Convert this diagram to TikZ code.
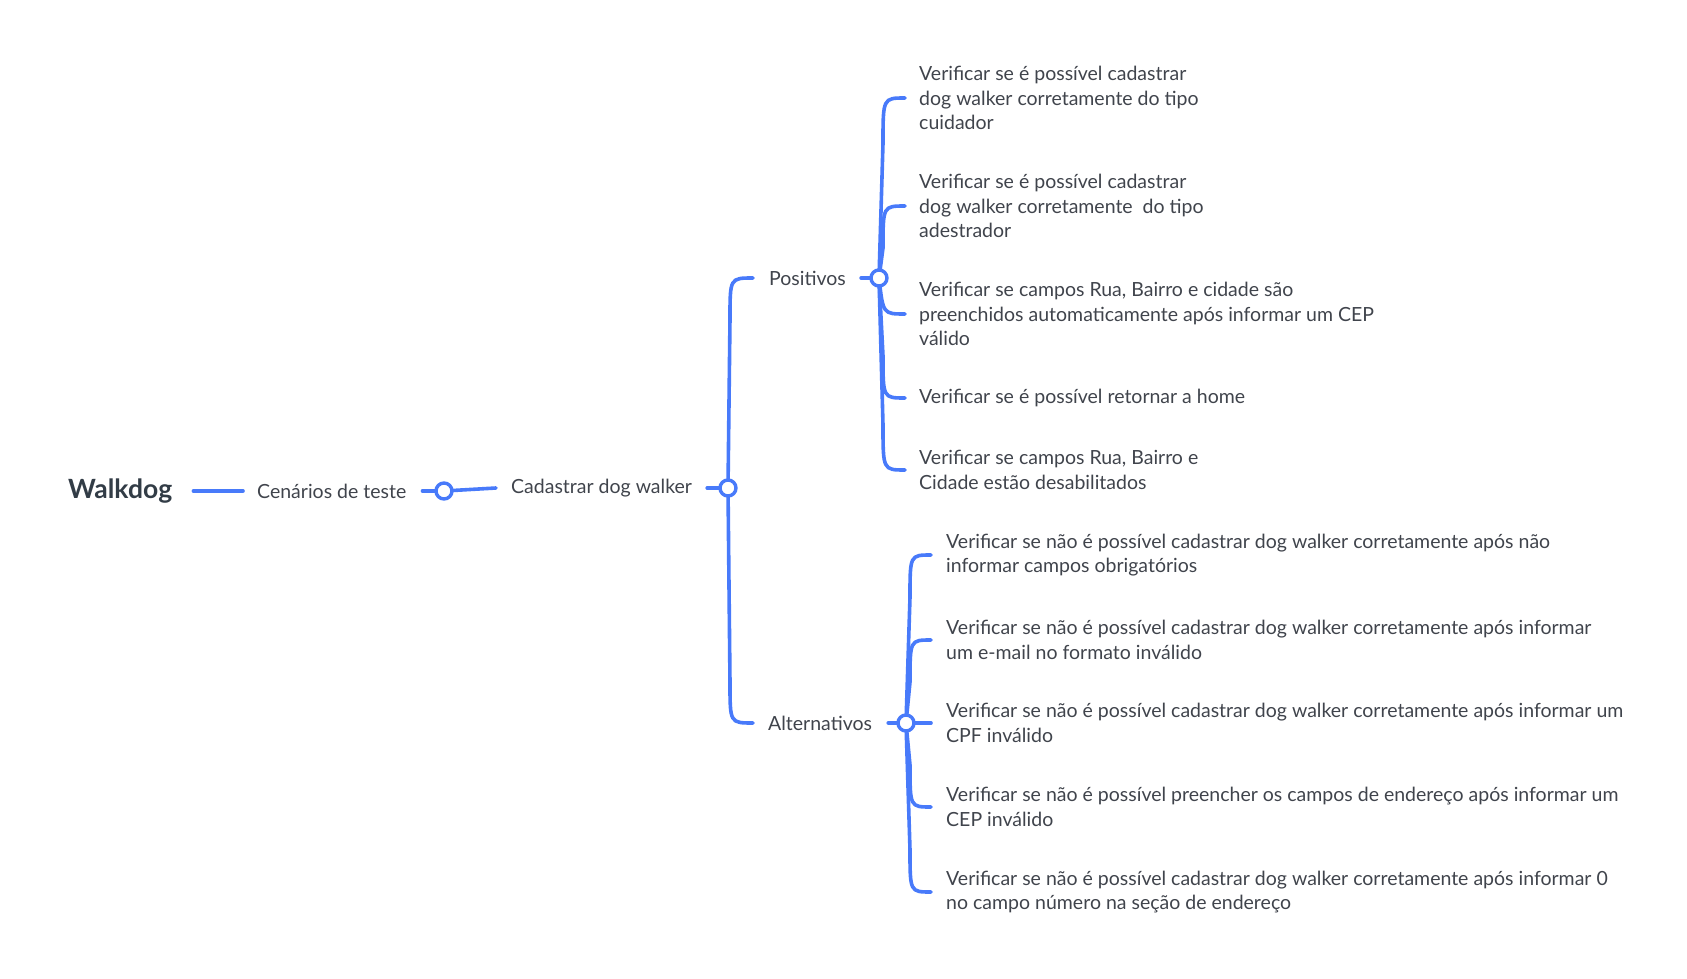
\documentclass[tikz,border=0pt]{standalone}
\usepackage{fontspec}
\setmainfont{Lato}
\usetikzlibrary{calc}
\pgfdeclarelayer{background}
\pgfsetlayers{background,main}
\definecolor{lineblue}{RGB}{72,122,250}
\definecolor{txt}{RGB}{64,68,76}
\definecolor{rootc}{RGB}{50,60,70}
\begin{document}
\begin{tikzpicture}[x=1pt,y=-1pt,
  conn/.style={draw=lineblue,line width=3.6pt,line cap=round},
  hub/.style={circle,draw=lineblue,line width=3.4pt,fill=white,minimum size=16pt,inner sep=0pt},
  lbl/.style={anchor=west,inner sep=0pt,text=txt,font=\fontsize{19.5}{24.5}\selectfont,align=left},
  rootlbl/.style={anchor=west,inner sep=0pt,text=rootc,font=\bfseries\fontsize{26.5}{30}\selectfont}
]
\useasboundingbox (0,0) rectangle (1687,979);

\node[rootlbl] (root) at (68,491) {Walkdog};
\node[lbl] (cen) at (257,491) {Cenários de teste};
\node[hub] (hcen) at (444,491) {};
\node[lbl] (cad) at (511,488) {Cadastrar dog walker};
\node[hub] (hcad) at (728,488) {};
\node[lbl] (pos) at (769,278) {Positivos};
\node[hub] (hpos) at (879,278) {};
\node[lbl] (alt) at (768,723) {Alternativos};
\node[hub] (halt) at (906,723) {};

\node[lbl] (p1) at (919,98) {Verificar se é possível cadastrar\\dog walker corretamente do tipo\\cuidador};
\node[lbl] (p2) at (919,206) {Verificar se é possível cadastrar\\dog walker corretamente\ \ do tipo\\adestrador};
\node[lbl] (p3) at (919,314) {Verificar se campos Rua, Bairro e cidade são\\preenchidos automaticamente após informar um CEP\\válido};
\node[lbl] (p4) at (919,398) {Verificar se é possível retornar a home};
\node[lbl] (p5) at (919,470) {Verificar se campos Rua, Bairro e\\Cidade estão desabilitados};

\node[lbl] (a1) at (946,555) {Verificar se não é possível cadastrar dog walker corretamente após não\\informar campos obrigatórios};
\node[lbl] (a2) at (946,640) {Verificar se não é possível cadastrar dog walker corretamente após informar\\um e-mail no formato inválido};
\node[lbl] (a3) at (946,723) {Verificar se não é possível cadastrar dog walker corretamente após informar um\\CPF inválido};
\node[lbl] (a4) at (946,807) {Verificar se não é possível preencher os campos de endereço após informar um\\CEP inválido};
\node[lbl] (a5) at (946,892) {Verificar se não é possível cadastrar dog walker corretamente após informar 0\\no campo número na seção de endereço};

\begin{pgfonlayer}{background}
% main chain
\draw[conn] ([xshift=21pt]root.east) -- ([xshift=-14pt]cen.west);
\draw[conn] ([xshift=16pt]cen.east) -- (hcen.center);
\draw[conn] (hcen.center) -- ([xshift=-15pt]cad.west);
\draw[conn] ([xshift=15pt]cad.east) -- (hcad.center);
% cadastrar branches
\draw[conn] (hcad.center) -- ($(hcad.center |- pos.west)+(2,40)$) .. controls ($(hcad.center |- pos.west)+(2,0)$) .. ([xshift=-16pt]pos.west);
\draw[conn] (hcad.center) -- ($(hcad.center |- alt.west)+(2,-40)$) .. controls ($(hcad.center |- alt.west)+(2,0)$) .. ([xshift=-15pt]alt.west);
% positivos
\draw[conn] ([xshift=15pt]pos.east) -- (hpos.center);
\draw[conn] (hpos.center) -- ($(hpos.center |- p1.west)+(4,45)$) .. controls ($(hpos.center |- p1.west)+(4,0)$) .. ([xshift=-14pt]p1.west);
\draw[conn] (hpos.center) -- ($(hpos.center |- p2.west)+(4,42)$) .. controls ($(hpos.center |- p2.west)+(4,0)$) .. ([xshift=-14pt]p2.west);
\draw[conn] (hpos.center) .. controls ($(hpos.center |- p3.west)+(4,0)$) .. ([xshift=-14pt]p3.west);
\draw[conn] (hpos.center) -- ($(hpos.center |- p4.west)+(4,-42)$) .. controls ($(hpos.center |- p4.west)+(4,0)$) .. ([xshift=-14pt]p4.west);
\draw[conn] (hpos.center) -- ($(hpos.center |- p5.west)+(4,-45)$) .. controls ($(hpos.center |- p5.west)+(4,0)$) .. ([xshift=-14pt]p5.west);
% alternativos
\draw[conn] ([xshift=16pt]alt.east) -- (halt.center);
\draw[conn] (halt.center) -- ($(halt.center |- a1.west)+(4,42)$) .. controls ($(halt.center |- a1.west)+(4,0)$) .. ([xshift=-15pt]a1.west);
\draw[conn] (halt.center) -- ($(halt.center |- a2.west)+(4,42)$) .. controls ($(halt.center |- a2.west)+(4,0)$) .. ([xshift=-15pt]a2.west);
\draw[conn] (halt.center) -- ([xshift=-15pt]a3.west);
\draw[conn] (halt.center) -- ($(halt.center |- a4.west)+(4,-42)$) .. controls ($(halt.center |- a4.west)+(4,0)$) .. ([xshift=-15pt]a4.west);
\draw[conn] (halt.center) -- ($(halt.center |- a5.west)+(4,-42)$) .. controls ($(halt.center |- a5.west)+(4,0)$) .. ([xshift=-15pt]a5.west);
\end{pgfonlayer}
\end{tikzpicture}
\end{document}
